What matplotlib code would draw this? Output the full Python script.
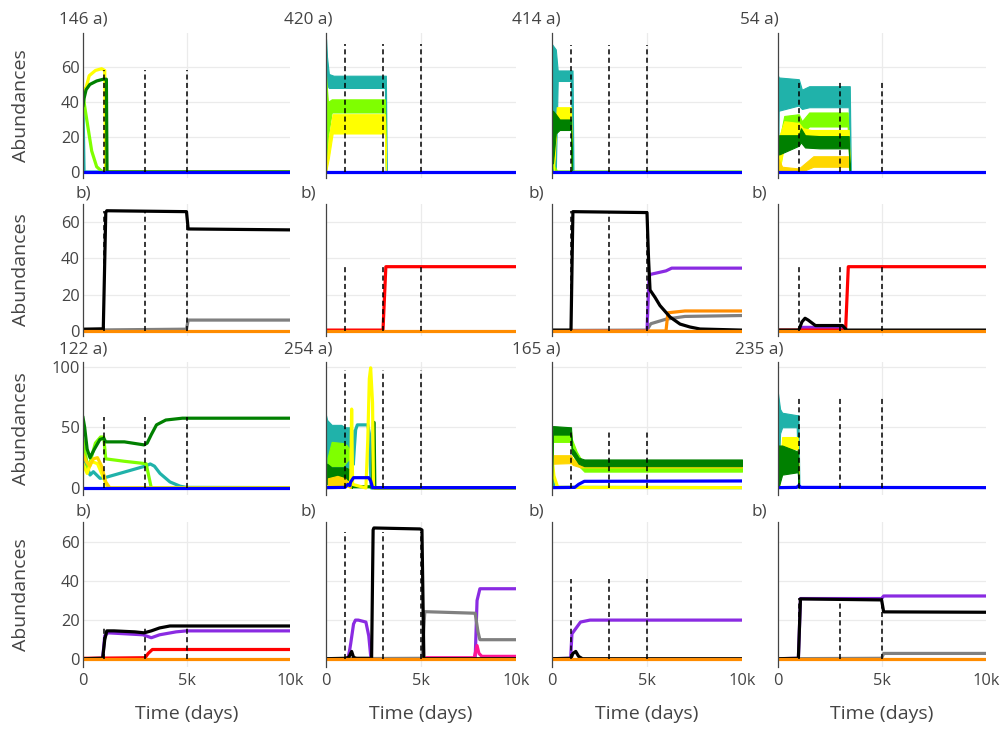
import numpy as np
import matplotlib.pyplot as plt

plt.rcParams['font.family'] = ['Open Sans', 'DejaVu Sans']

TEAL = '#20B2AA'
LIME = '#7FFF00'
YEL = '#FFFF00'
GOLD = '#FFD700'
GRN = '#008000'
BLUE = '#0000FF'
BLACK = '#000000'
GRAY = '#808080'
PURP = '#8A2BE2'
RED = '#FF0000'
ORNG = '#FF8C00'
PINK = '#FF1493'

# series: (colour, times, values) for lines, (colour, times, low, high) for noisy bands
a146 = [
    (TEAL, [0, 50, 10000], [38, 0, 0]),
    (LIME, [0, 100, 260, 420, 660, 900, 1000, 10000], [44, 36, 24, 12, 3, 0.5, 0, 0]),
    (YEL, [0, 100, 300, 600, 900, 1050, 1090, 10000], [48, 46, 55, 58, 59, 58, 0, 0]),
    (GRN, [0, 50, 150, 330, 660, 980, 1130, 1160, 10000], [38, 42, 47, 50, 52, 53, 53, 0, 0]),
    (BLUE, [0, 10000], [0, 0]),
]
a420 = [
    (TEAL, [0, 50, 150, 400, 3100, 3150, 3200], [0, 50, 48, 48, 48, 0, 0], [76, 66, 56, 55, 55, 55, 0]),
    (LIME, [0, 100, 300, 3100, 3160], [0, 20, 34, 34, 0], [55, 40, 41.5, 41.5, 0]),
    (YEL, [0, 150, 350, 3100, 3160], [0, 8, 22, 22, 0], [0, 20, 33, 33, 0]),
    (BLUE, [0, 10000], [0, 0]),
]
a414 = [
    (TEAL, [0, 200, 300, 1000, 1080, 1130], [0, 0, 52, 52, 0, 0], [73, 70, 58, 58, 58, 0]),
    (LIME, [0, 150, 250, 10000], [4, 2, 0, 0]),
    (YEL, [100, 250, 1000, 1050], [0, 30, 30, 0], [5, 37, 37, 0]),
    (GRN, [50, 200, 400, 1000, 1050], [5, 22, 24, 24, 0], [35, 33, 30, 30, 0]),
    (BLUE, [0, 10000], [0, 0]),
]
a54 = [
    (TEAL, [0, 30, 1000, 1150, 1500, 3400, 3450, 3500], [0, 35, 38, 36, 37, 37, 0, 0], [55, 54, 53, 47, 49, 49, 49, 0]),
    (LIME, [100, 300, 1000, 1150, 1500, 3350, 3450], [0, 27, 28, 22, 26, 26, 0], [20, 32, 33, 29, 34, 34, 0]),
    (YEL, [50, 300, 1000, 1200, 1600, 3400, 3450], [0, 15, 16, 21, 18, 18, 0], [20, 29, 28, 25, 24, 24, 0]),
    (GOLD, [0, 200, 1000, 1300, 1700, 3400, 3450], [0, 0, 0, 1, 3, 3, 0], [8, 3, 2, 5, 9, 9, 0]),
    (GRN, [50, 1000, 1100, 1300, 2000, 3400, 3450], [10, 15, 17, 14, 13.5, 13.5, 0], [21, 21, 25, 21, 20.5, 20.5, 0]),
    (BLUE, [0, 10000], [0, 0]),
]

b146 = [
    (GRAY, [0, 5000, 5080, 10000], [0.5, 1, 6, 6]),
    (BLACK, [0, 980, 1100, 1150, 5000, 5080, 10000], [1, 1.2, 65, 66, 65.5, 56, 55.5]),
    (ORNG, [0, 10000], [0, 0]),
]
b420 = [
    (RED, [0, 3000, 3150, 10000], [0.5, 0.5, 35.3, 35.3]),
    (ORNG, [0, 10000], [0, 0]),
]
b414 = [
    (GRAY, [0, 5000, 5200, 6000, 7000, 10000], [0.3, 0.5, 4, 6.5, 8, 8.5]),
    (PURP, [0, 5000, 5100, 5150, 6000, 6300, 10000], [0, 0, 28, 31, 33, 34.5, 34.5]),
    (ORNG, [0, 6000, 6100, 7000, 10000], [0, 0, 10, 11, 11]),
    (BLACK, [0, 1000, 1100, 5000, 5080, 5160, 5420, 5680, 6210, 6740, 7260, 7790, 10000],
     [0.5, 0.5, 65.5, 65, 40, 22.5, 18.5, 14, 7.7, 3.8, 2.2, 1.1, 0.5]),
    (ORNG, [0, 10000], [0, 0]),
]
b54 = [
    (PURP, [0, 1000, 1100, 3000, 3200, 10000], [0, 0, 2, 2, 0, 0]),
    (RED, [0, 3250, 3380, 10000], [0.5, 0.5, 35.3, 35.3]),
    (BLACK, [0, 1000, 1150, 1300, 1450, 1800, 3100, 3300, 10000], [0.5, 0.5, 5, 7, 6, 3, 3, 0.5, 0.5]),
    (ORNG, [0, 10000], [0, 0]),
]

a122 = [
    (TEAL, [0, 100, 340, 500, 820, 1050, 3000, 3250, 3450, 3720, 4200, 4690, 5000, 10000],
     [28, 22, 10.7, 13.4, 8, 8.5, 18, 19.8, 18, 12, 5, 1.5, 0.5, 0.3]),
    (LIME, [0, 100, 250, 400, 600, 850, 1000, 1100, 2000, 3050, 3300, 10000],
     [40, 30, 15, 25, 37, 42, 42, 24, 22, 20, 0, 0]),
    (YEL, [0, 200, 400, 700, 1000, 1200, 10000], [20, 12, 22, 20, 8, 0, 0]),
    (GOLD, [0, 150, 330, 500, 700, 900, 1100, 1300, 10000], [28, 22, 18, 24, 25, 18, 5, 0, 0]),
    (GRN, [0, 80, 200, 340, 550, 820, 1000, 1100, 2000, 2950, 3100, 3300, 3550, 4000, 4800, 10000],
     [58, 50, 32, 25, 32, 40, 41, 38, 38, 35.5, 37, 44, 52, 56, 57.5, 57.5]),
    (BLUE, [0, 10000], [0, 0]),
]
a254 = [
    (TEAL, [0, 60, 300, 800, 1000, 1250, 1400, 1440], [0, 10, 10, 10, 10, 15, 20, 20], [60, 56, 52, 52, 50, 50, 48, 20]),
    (TEAL, [1440, 1500, 1560, 1650, 2200, 2280, 2330, 2380, 10000], [20, 35, 48, 52, 52, 45, 20, 0, 0]),
    (LIME, [80, 300, 900, 1100, 1300, 1350], [10, 18, 18, 22, 25, 0], [25, 38, 37, 35, 30, 0]),
    (GRN, [60, 300, 1000, 1300, 1350], [3, 7, 8, 5, 0], [20, 17, 17, 15, 0]),
    (GRN, [1350, 2450, 2500, 2530, 2570, 10000], [1, 1, 54, 54, 0, 0]),
    (YEL, [0, 1300, 1350, 1400, 2100, 2200, 2280, 2350, 2450, 2500, 10000],
     [0, 5, 65, 3, 0, 40, 90, 99, 70, 0, 0]),
    (GOLD, [100, 600, 1000, 1300], [1, 2, 2, 0], [8, 10, 8, 2]),
    (BLUE, [0, 1000, 1150, 1250, 1300, 1450, 2250, 2350, 2450, 10000], [0.3, 0.5, 3, 2, 5, 8.5, 8.5, 6, 0.3, 0.3]),
]
a165 = [
    (TEAL, [0, 30, 100, 10000], [15, 8, 0.5, 0.3]),
    (LIME, [0, 50, 1000, 1050, 1300, 1700, 10000], [0, 38, 38, 30, 20, 13.5, 13.5], [40, 47, 47, 40, 30, 19, 19]),
    (YEL, [0, 100, 300, 10000], [25, 10, 0.5, 0.3]),
    (GOLD, [50, 1000, 1100, 1500, 10000], [20, 20.5, 19, 17, 17], [27, 27, 24, 20, 20]),
    (GRN, [0, 50, 1000, 1050, 1200, 1400, 1700, 10000], [0, 44, 44, 28, 25, 20, 18, 18], [40, 51, 50, 33, 30, 25, 23.5, 23.5]),
    (BLUE, [0, 1200, 1400, 1700, 10000], [0.3, 0.5, 3, 5.5, 5.8]),
]
a235 = [
    (TEAL, [0, 100, 200, 900, 980, 1030], [0, 45, 50, 50, 0, 0], [78, 65, 62, 60, 60, 0]),
    (YEL, [50, 200, 950, 1000], [0, 32, 32, 0], [10, 42, 42, 0]),
    (GRN, [20, 200, 950, 1000], [0, 11, 13, 0], [35, 35, 30, 0]),
    (BLUE, [0, 900, 1000, 1100, 10000], [0.3, 0.5, 2, 0.5, 0.3]),
]

b122 = [
    (PURP, [0, 950, 1050, 1200, 2900, 3300, 3700, 4500, 5000, 10000], [0.3, 0.5, 12, 13.5, 12.5, 11, 12.5, 14, 14.5, 14.5]),
    (RED, [0, 3000, 3150, 3350, 10000], [0.5, 0.8, 3, 5, 5]),
    (BLACK, [0, 950, 1050, 1150, 1500, 2500, 2950, 3300, 3700, 4200, 10000],
     [0.3, 0.5, 10, 14.5, 14.5, 14, 13.5, 14.5, 16, 17, 17]),
    (ORNG, [0, 10000], [0, 0]),
]
b254 = [
    (PURP, [0, 1150, 1250, 1300, 1450, 1550, 1700, 2100, 2250, 2350, 2400, 7850, 7950, 8100, 10000],
     [0, 0, 5, 8, 18, 20, 20, 19, 12, 2, 0, 0, 30, 36, 36]),
    (PINK, [0, 5100, 5300, 7800, 7950, 8050, 8200, 10000], [0, 0, 0.8, 0.8, 7, 3, 1.5, 1.5]),
    (GRAY, [0, 5050, 5200, 7850, 8000, 8100, 10000], [0.3, 0.5, 24.3, 23.5, 14, 10, 10]),
    (BLACK, [0, 1000, 1200, 1350, 1450, 1600, 2400, 2480, 2520, 4950, 5050, 5150, 10000],
     [0.3, 0.5, 1, 4, 1, 0.5, 0.5, 66, 67, 66.5, 66, 0.3, 0.3]),
    (ORNG, [0, 10000], [0, 0]),
]
b165 = [
    (PURP, [0, 980, 1050, 1200, 1500, 2000, 10000], [0.3, 0.5, 13, 15, 19, 20, 20]),
    (BLACK, [0, 1000, 1100, 1250, 1400, 1600, 10000], [0.3, 0.5, 3, 4, 1.5, 0.3, 0.3]),
    (ORNG, [0, 10000], [0, 0]),
]
b235 = [
    (PURP, [0, 980, 1080, 4980, 5080, 10000], [0.3, 0.5, 31, 31, 32.3, 32.3]),
    (GRAY, [0, 4980, 5080, 10000], [0.3, 0.5, 3, 3]),
    (BLACK, [0, 980, 1080, 4980, 5080, 10000], [0.3, 0.5, 30.8, 30.3, 24.2, 24]),
    (ORNG, [0, 10000], [0, 0]),
]

panels = [[a146, a420, a414, a54],
          [b146, b420, b414, b54],
          [a122, a254, a165, a235],
          [b122, b254, b165, b235]]
titles = [['146 a)', '420 a)', '414 a)', '54 a)'],
          ['b)', 'b)', 'b)', 'b)'],
          ['122 a)', '254 a)', '165 a)', '235 a)'],
          ['b)', 'b)', 'b)', 'b)']]
# height of the dashed event markers in each panel
dash_top = [[58.3, 73, 72.6, 52.6],
            [66, 35, 65.9, 35.5],
            [58.7, 97, 47, 75],
            [15.8, 65, 41, 31.5]]
events = [1000, 3000, 5000]

yticks = [[0, 20, 40, 60], [0, 20, 40, 60], [0, 50, 100], [0, 20, 40, 60]]
ylims = [(-3.43, 79.4), (-2.74, 69.7), (-5.77, 103.8), (-3.93, 70.05)]

W, H = 1008, 729
col_px = [(83, 290), (326, 516), (552, 742), (778, 986)]
row_px = [(33, 178), (204, 336), (362, 495), (522, 667)]
title_x = [83, 308, 536, 759]
title_y = [20, 194, 350, 511]
TXT = '#444444'

fig = plt.figure(figsize=(W / 100, H / 100), dpi=100)

for r in range(4):
    for c in range(4):
        x0, x1 = col_px[c]
        y0, y1 = row_px[r]
        ax = fig.add_axes([x0 / W, 1 - y1 / H, (x1 - x0) / W, (y1 - y0) / H])
        ax.set_xlim(0, 10000)
        ax.set_ylim(*ylims[r])
        for s in ['top', 'right', 'bottom']:
            ax.spines[s].set_visible(False)
        ax.spines['left'].set_color(TXT)
        ax.spines['left'].set_linewidth(0.9)
        for v in yticks[r][1:]:
            ax.axhline(v, color='#ebebeb', lw=0.9, zorder=0)
        ax.axvline(5000, color='#ebebeb', lw=0.9, zorder=0)

        for k, s in enumerate(panels[r][c]):
            if len(s) == 3:
                ax.plot(s[1], s[2], color=s[0], lw=2.3, solid_joinstyle='round', zorder=2 + k * 0.01)
            else:
                ax.fill_between(s[1], s[2], s[3], color=s[0], lw=0.8, edgecolor=s[0], zorder=2 + k * 0.01)

        for e in events:
            ax.plot([e, e], [0, dash_top[r][c]], color='black', lw=1.1,
                    dashes=(3.3, 2.2), zorder=3)

        ax.set_yticks(yticks[r])
        ax.tick_params(axis='y', length=0, pad=2.5, labelsize=11.8, labelcolor=TXT)
        if c > 0:
            ax.set_yticklabels([])
        ax.set_xticks([0, 5000, 10000])
        if r == 3:
            ax.set_xticklabels(['0', '5k', '10k'])
            ax.tick_params(axis='x', length=0, pad=4, labelsize=11.8, labelcolor=TXT)
        else:
            ax.tick_params(axis='x', length=0, labelbottom=False)

        fig.text(title_x[c] / W, 1 - title_y[r] / H, titles[r][c], ha='center', va='center',
                 fontsize=12.3, color=TXT)

    fig.text(21 / W, 1 - (row_px[r][0] + row_px[r][1]) / 2 / H, 'Abundances', rotation=90,
             ha='center', va='center', fontsize=14, color=TXT)

for c in range(4):
    fig.text((col_px[c][0] + col_px[c][1]) / 2 / W, 1 - 714 / H, 'Time (days)', ha='center',
             va='center', fontsize=14, color=TXT)

fig.savefig('out.png', dpi=100, facecolor='white')
